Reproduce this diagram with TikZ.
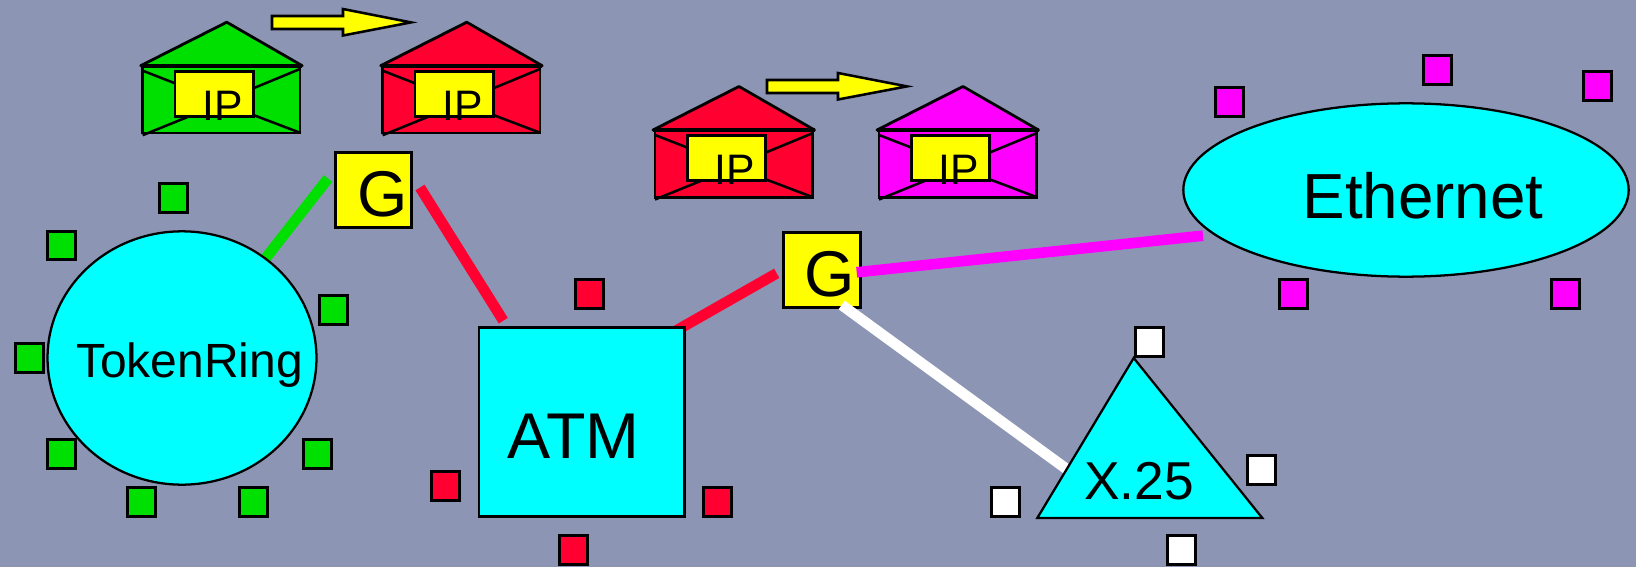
\documentclass[tikz,border=0pt]{standalone}
\usepackage{fontspec}
\setmainfont{Liberation Sans}
\definecolor{bgc}{HTML}{8C96B4}
\definecolor{gr}{HTML}{00E000}
\definecolor{rd}{HTML}{FF0030}
\definecolor{cy}{HTML}{00FFFF}
\definecolor{yl}{HTML}{FFFF00}
\definecolor{mg}{HTML}{FF00FF}
\usetikzlibrary{shapes.geometric}
\tikzset{
  sq/.style={draw=black,line width=2.1pt,fill=#1,minimum size=21.2pt,inner sep=0pt,outer sep=0pt},
  gbox/.style={draw=black,line width=2.1pt,fill=yl,minimum width=57.2pt,minimum height=56.4pt,inner sep=0pt,outer sep=0pt},
  net/.style={draw=black,fill=cy,line width=1.7pt,inner sep=0pt,outer sep=0pt},
  txt/.style={anchor=base,inner sep=0pt,outer sep=0pt,text=black},
  link/.style={line width=8pt,draw=#1},
  yarrow/.style={draw=black,fill=yl,line width=1.9pt,miter limit=10},
  pics/envelope/.style={code={
    \draw[line width=2.1pt,fill=#1,line join=miter] (0,0) rectangle (157.3,67.3);
    \draw[line width=2.1pt,fill=#1,line join=round] (-2,0) -- (84,-43.5) -- (159.5,0) -- cycle;
    \draw[line width=3pt] (-2,0) -- (159.5,0);
    \draw[line width=1.9pt] (0,5) -- (32.3,17.6) (157.3,3.3) -- (110.6,22.6)
      (157.3,67) -- (110.6,49.3) (0,69.5) -- (45.6,51);
    \node[draw=black,line width=2.1pt,fill=yl,minimum width=58.7pt,minimum height=33.7pt,inner sep=0pt,outer sep=0pt] (-box) at (71.5,28) {};
    \node[txt,font=\fontsize{32}{32}\selectfont] (-ip) at (79.8,55) {IP};
  }}
}
\begin{document}
\begin{tikzpicture}[x=0.75pt,y=-0.75pt]
\useasboundingbox (0,0) rectangle (1636,567);
\fill[bgc] (0,0) rectangle (1636,567);

% envelopes
\pic (e1) at (142.7,65.7) {envelope=gr};
\pic (e2) at (382.7,65.7) {envelope=rd};
\pic (e3) at (655,130) {envelope=rd};
\pic (e4) at (879,130) {envelope=mg};

% arrows
\draw[yarrow] (272,16) -- (343,16) -- (343,9) -- (411,22.4) -- (343,35.5) -- (343,29) -- (272,29) -- cycle;
\draw[yarrow] (767,80) -- (838,80) -- (838,73) -- (907,86.4) -- (838,99.5) -- (838,93) -- (767,93) -- cycle;

% gateways
\node[gbox] (g1) at (373.5,190) {};
\node[gbox] (g2) at (822,270) {};
\node[txt,font=\fontsize{48.5}{48.5}\selectfont] (g1t) at (382.2,216.7) {G};
\node[txt,font=\fontsize{48.5}{48.5}\selectfont] (g2t) at (830,296.7) {G};

% connector ends
\coordinate (a1) at (328,178.5);
\coordinate (a2) at (265,259);
\coordinate (b1) at (420,187.5);
\coordinate (b2) at (503.3,320.7);
\coordinate (c1) at (776.7,273.3);
\coordinate (c2) at (672,333);
\coordinate (d1) at (841.7,305);
\coordinate (d2) at (1072,473);
\coordinate (f1) at (856.7,272.3);
\coordinate (f2) at (1203,235.7);

\draw[link=gr] (a1) -- (a2);
\draw[link=rd] (b1) -- (b2);
\draw[link=rd] (c1) -- (c2);
\draw[link=white] (d1) -- (d2);

% networks
\node[net,ellipse,minimum width=201.7pt,minimum height=190pt] (tr) at (182,358) {};
\node[txt,font=\fontsize{36}{36}\selectfont] (trt) at (189.5,377.5) {TokenRing};

\node[net,rectangle,line width=2pt,minimum width=154pt,minimum height=142pt] (atm) at (581.7,422) {};
\node[txt,font=\fontsize{48.5}{48.5}\selectfont] (atmt) at (573.5,458.5) {ATM};

\coordinate (t1) at (1133.7,358);
\coordinate (t2) at (1262.3,518);
\coordinate (t3) at (1037.3,518);
\draw[draw=black,fill=cy,line width=1.7pt,line join=miter] (t1) -- (t2) -- (t3) -- cycle;
\node[txt,font=\fontsize{40}{40}\selectfont] (xt) at (1139,499.5) {X.25};

\node[net,ellipse,minimum width=334pt,minimum height=130pt] (eth) at (1406,190) {};
\node[txt,font=\fontsize{47.8}{47.8}\selectfont] (etht) at (1423,218.5) {Ethernet};

\draw[link=mg] (f1) -- (f2);

% stations
\foreach \n/\x/\y in {a/173.7/198,b/61.7/245.6,c/333.7/310,d/29.7/358,e/61.7/454,f/317.7/454,g/141.7/502,h/253.7/502}
  \node[sq=gr] (s\n) at (\x,\y) {};
\foreach \n/\x/\y in {a/589.3/294,b/445.7/486,c/717.7/502,d/573.7/550}
  \node[sq=rd] (r\n) at (\x,\y) {};
\foreach \n/\x/\y in {a/1149.7/342,b/1261.7/470,c/1005.7/502,d/1181.7/550}
  \node[sq=white] (w\n) at (\x,\y) {};
\foreach \n/\x/\y in {a/1229.7/102,b/1437.7/70,c/1597.7/86,d/1293.7/294,e/1565.7/294}
  \node[sq=mg] (m\n) at (\x,\y) {};
\end{tikzpicture}
\end{document}
